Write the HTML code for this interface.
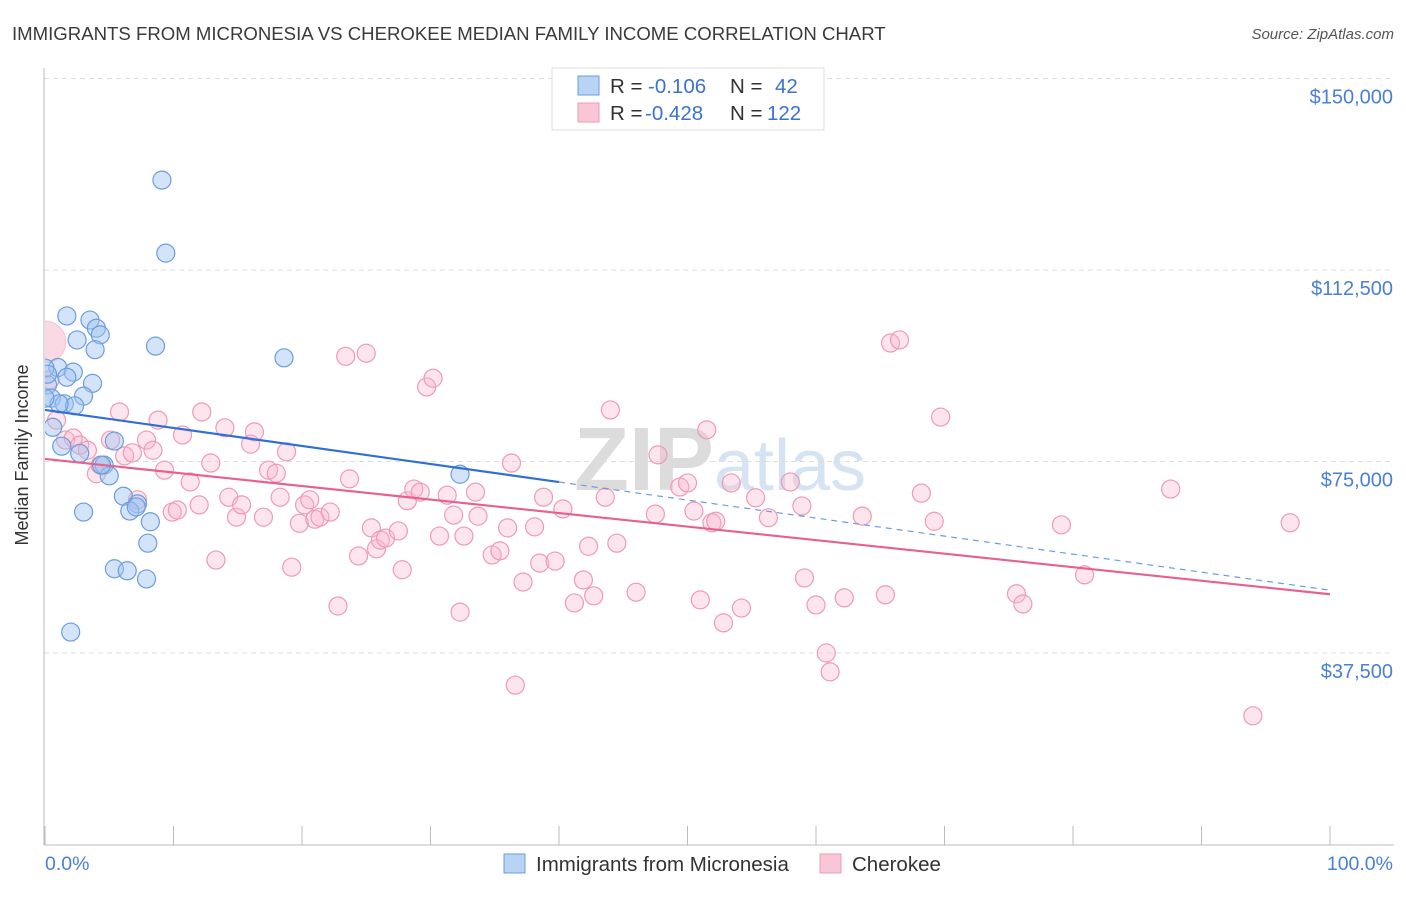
<!DOCTYPE html>
<html><head><meta charset="utf-8"><style>
body{margin:0;background:#fff;font-family:"Liberation Sans",sans-serif;}
svg text{font-family:"Liberation Sans",sans-serif;}
</style></head><body>
<svg id="chart" width="1406" height="892" viewBox="0 0 1406 892">
<defs><clipPath id="plotclip"><rect x="45" y="60" width="1360" height="785"/></clipPath></defs>
<text x="12" y="40" font-size="18.6" fill="#3a3a3a">IMMIGRANTS FROM MICRONESIA VS CHEROKEE MEDIAN FAMILY INCOME CORRELATION CHART</text>
<text x="1394" y="39" font-size="15" fill="#555" font-style="italic" text-anchor="end">Source: ZipAtlas.com</text>
<text x="720" y="490" font-size="90" fill="#e4e4e4" text-anchor="middle" font-family="Liberation Serif"><tspan font-weight="bold" fill="#dcdcdc">ZIP</tspan><tspan fill="#d6e3f3" font-family="Liberation Sans" font-size="72">atlas</tspan></text>
<g id="grid"></g>
<line x1="44" y1="68" x2="44" y2="845" stroke="#bbb"/>
<line x1="44" y1="845" x2="1394" y2="845" stroke="#bbb"/>
<g id="xticks"></g>
<text x="28" y="455" font-size="18" fill="#333" text-anchor="middle" transform="rotate(-90 28 455)">Median Family Income</text>
<text x="45" y="870" font-size="19.5" fill="#4a7fd6">0.0%</text>
<text x="1393" y="870" font-size="19.5" fill="#4a7fd6" text-anchor="end">100.0%</text>
<g id="pts" clip-path="url(#plotclip)"></g>
<g id="lines"></g>
<g>
<rect x="552" y="68" width="272" height="62" fill="#fff" stroke="#ddd"/>
<rect x="578" y="76" width="21" height="19" fill="#b9d3f5" stroke="#6a9de0"/>
<rect x="578" y="103" width="21" height="19" fill="#f9c6d5" stroke="#ef9ab5"/>
<text x="610" y="93" font-size="20.5" fill="#333">R = <tspan x="648" fill="#3b72d0">-0.106</tspan><tspan x="730">N = </tspan><tspan x="775" fill="#3b72d0">42</tspan></text>
<text x="610" y="120" font-size="20.5" fill="#333">R = <tspan x="645" fill="#3b72d0">-0.428</tspan><tspan x="730">N = </tspan><tspan x="767" fill="#3b72d0">122</tspan></text>
</g>
<g>
<rect x="504" y="854" width="21" height="19" fill="#b9d3f5" stroke="#6a9de0"/>
<text x="536" y="871" font-size="20.5" fill="#333">Immigrants from Micronesia</text>
<rect x="820" y="854" width="21" height="19" fill="#f9c6d5" stroke="#ef9ab5"/>
<text x="852" y="871" font-size="20.5" fill="#333">Cherokee</text>
</g>
</svg>
<script>
const yTicks=[37500,75000,112500,150000];
const yTickLabels=["$37,500","$75,000","$112,500","$150,000"];
const xTicks=[0,10,20,30,40,50,60,70,80,90,100];
const blueX=[9.1,9.4,1.7,3.5,4.0,4.3,8.6,2.5,3.9,18.6,1.0,2.2,0.2,1.7,3.7,0.5,3.0,1.5,2.3,1.1,0.6,1.3,2.7,5.4,4.6,5.0,6.1,7.2,6.6,7.1,8.2,8.0,3.0,5.4,6.4,7.9,2.0,32.3,0,0,0.2,4.4];
const blueY=[130.1,115.8,103.5,102.7,101.1,99.8,97.6,98.8,96.9,95.3,93.4,92.5,90.0,91.5,90.3,87.4,87.8,86.3,85.9,86.3,81.7,78.0,76.6,79.0,74.3,72.2,68.2,66.7,65.3,66.1,63.2,59.0,65.1,54.0,53.6,52.0,41.6,72.5,93.3,87.4,92.1,74.3];
const pinkX=[0,0.4,0.9,1.6,2.2,2.7,3.3,4.0,4.3,5.1,5.8,6.2,6.8,7.2,7.9,8.4,8.8,9.3,9.9,10.3,10.7,11.3,12.0,12.2,12.9,13.3,14.0,14.3,14.9,15.3,16.0,16.3,17.0,17.4,18.0,18.3,18.8,19.2,19.8,20.2,20.6,21.0,21.4,22.2,22.8,23.4,23.7,24.4,25.0,25.4,25.8,26.1,26.5,27.5,27.8,28.2,28.7,29.2,29.7,30.2,30.7,31.3,31.8,32.3,32.6,33.5,33.7,34.8,35.4,36.0,36.3,36.6,37.2,38.1,38.5,38.8,39.7,40.3,41.2,41.9,42.3,42.7,43.6,44.0,44.5,46.0,47.5,47.7,49.4,50.0,50.5,51.0,51.5,51.9,52.2,52.8,53.4,54.2,55.3,56.3,58.0,58.9,59.1,60.0,60.8,61.1,62.2,63.6,65.4,65.8,66.5,68.2,69.2,69.7,75.6,76.1,79.1,80.9,87.6,94.0,96.9];
const pinkY=[98.4,91.0,83.1,79.2,79.6,78.2,77.2,72.6,74.3,79.2,84.7,76.1,76.7,67.5,79.2,77.2,83.1,73.3,65.1,65.5,80.2,71.0,66.5,84.7,74.7,55.7,81.6,68.0,64.1,66.5,78.4,80.8,64.1,73.3,72.7,68.0,76.9,54.3,62.9,66.5,67.5,63.7,64.1,65.1,46.7,95.6,71.6,56.5,96.2,62.0,57.9,59.6,60.0,61.4,53.8,67.3,69.6,69.0,89.6,91.3,60.4,68.4,64.5,45.5,60.4,69.0,64.3,56.7,57.5,62.0,74.7,31.2,51.4,62.2,55.1,68.0,55.5,65.7,47.3,51.8,58.4,48.7,68.0,85.1,59.0,49.4,64.7,76.3,70.0,70.8,65.3,47.9,81.2,63.0,63.3,43.4,70.8,46.3,67.9,64.0,71.0,66.3,52.2,46.9,37.5,33.8,48.3,64.3,48.9,98.2,98.8,68.8,63.3,83.7,49.1,47.1,62.6,52.8,69.6,25.2,63.0];
const blueTrend=[85.1,49.8];
const pinkTrend=[75.5,49.0];
const blueSolidEnd=40;

const NS="http://www.w3.org/2000/svg";
const sx=p=>45+p*12.85;
const sy=v=>844.5-v*191.5/37500;
function mk(tag,attrs,parent){const e=document.createElementNS(NS,tag);for(const k in attrs)e.setAttribute(k,attrs[k]);parent.appendChild(e);return e;}
const grid=document.getElementById('grid');
yTicks.forEach((t,i)=>{
  const l=mk('line',{x1:44,x2:1394,y1:sy(t),y2:sy(t),stroke:'#ddd','stroke-dasharray':'5,4'},grid);
  
  
  const tx=mk('text',{x:1393,y:sy(t)+25,'font-size':20,fill:'#4a7fd6','text-anchor':'end'},grid);
  tx.textContent=yTickLabels[i];
  
  
});
const xt=document.getElementById('xticks');
xTicks.forEach(t=>{
  const l=mk('line',{x1:sx(t),x2:sx(t),y1:826,y2:845,stroke:'#bbb'},xt);
  
  
});
const pts=document.getElementById('pts');
pinkX.forEach((x,i)=>{
  const big=i===0;
  const c=mk('circle',{cx:sx(x),cy:sy(pinkY[i]*1000),r:big?21:9,fill:big?'rgba(248,180,202,0.5)':'rgba(248,180,202,0.35)',stroke:big?'rgba(239,154,181,0.4)':'#ef9ab5','stroke-width':1.2},pts);
  
  
});
blueX.forEach((x,i)=>{
  const c=mk('circle',{cx:sx(x),cy:sy(blueY[i]*1000),r:9,fill:'rgba(160,196,240,0.45)',stroke:'#6a9de0','stroke-width':1.2},pts);
  
  
});
const lines=document.getElementById('lines');
const bAt=p=>blueTrend[0]+(blueTrend[1]-blueTrend[0])*p/100;
const l1=mk('line',{x1:sx(0),y1:sy(bAt(0)*1000),x2:sx(blueSolidEnd),y2:sy(bAt(blueSolidEnd)*1000),stroke:'#2f6fd6','stroke-width':2.2},lines);


const l2=mk('line',{x1:sx(blueSolidEnd),y1:sy(bAt(blueSolidEnd)*1000),x2:sx(100),y2:sy(bAt(100)*1000),stroke:'#6a9de0','stroke-width':1.2,'stroke-dasharray':'6,5'},lines);


const l3=mk('line',{x1:sx(0),y1:sy(pinkTrend[0]*1000),x2:sx(100),y2:sy(pinkTrend[1]*1000),stroke:'#e8608f','stroke-width':2.2},lines);


</script>
</body></html>
